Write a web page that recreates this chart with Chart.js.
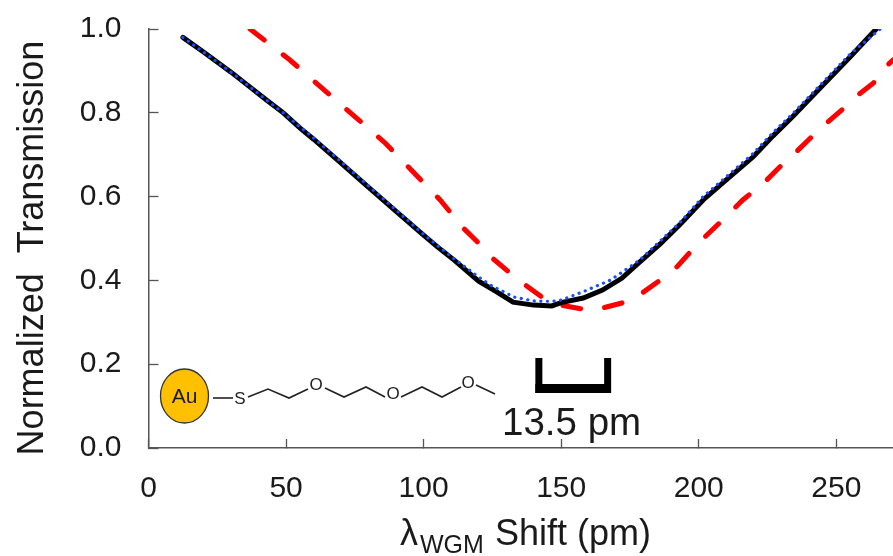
<!DOCTYPE html>
<html>
<head>
<meta charset="utf-8">
<style>
  html, body { margin: 0; padding: 0; background: #fff; }
  #wrap { width: 893px; height: 556px; }
</style>
<script src="https://cdn.jsdelivr.net/npm/chart.js@4"></script>
</head>
<body>
<div id="wrap"><canvas id="chart" width="893" height="556"></canvas></div>
<script>
const blackShift = [12.5, 20, 30, 36, 43, 49, 55, 60, 70, 80, 90, 98.7, 105, 111, 120, 126.7, 132.5, 140, 146.6, 150, 158, 165, 172, 178.6, 186, 193, 201.6, 210, 219.8, 227, 234, 245, 255, 264.5];
const blackTrans = [0.98, 0.945, 0.897, 0.866, 0.83, 0.8, 0.764, 0.737, 0.68, 0.622, 0.565, 0.515, 0.48, 0.449, 0.398, 0.372, 0.348, 0.341, 0.339, 0.347, 0.358, 0.377, 0.405, 0.444, 0.487, 0.532, 0.592, 0.64, 0.695, 0.745, 0.79, 0.865, 0.933, 1.0];

const blueShift = [12.5, 20, 30, 36, 43, 49, 55, 60, 70, 80, 90, 98.7, 105, 111, 120, 125, 133, 140, 146.5, 150, 158, 168, 178.6, 193, 201.6, 210, 219.8, 227, 234, 245, 255, 266];
const blueTrans = [0.98, 0.945, 0.897, 0.866, 0.83, 0.8, 0.766, 0.74, 0.683, 0.625, 0.568, 0.517, 0.483, 0.452, 0.408, 0.386, 0.36, 0.351, 0.35, 0.353, 0.373, 0.401, 0.449, 0.537, 0.6, 0.647, 0.703, 0.753, 0.797, 0.872, 0.94, 1.0];

const redShift = [36.9, 51.4, 66, 86, 106, 114.4, 120, 125, 131, 137, 143, 150, 157.5, 165, 172, 179.4, 185, 192, 200, 208, 216, 224, 229.5, 235, 240.6, 246, 252, 257, 263.5, 268, 270.6];
const redTrans = [1.0, 0.926, 0.842, 0.728, 0.592, 0.525, 0.489, 0.453, 0.42, 0.389, 0.36, 0.341, 0.332, 0.334, 0.346, 0.37, 0.396, 0.432, 0.49, 0.54, 0.592, 0.635, 0.671, 0.704, 0.74, 0.773, 0.807, 0.838, 0.871, 0.91, 0.926];

const xTicks = [0, 50, 100, 150, 200, 250];
const yTicks = [0, 0.2, 0.4, 0.6, 0.8, 1.0];

const bracketFrom = 141.7;
const bracketTo = 166.7;

const FONT = '"Liberation Sans", Arial, sans-serif';
const TEXT = "#1a1a1a";
const AXIS = "#555555";

function pairs(xs, ys) {
    return xs.map((x, i) => ({ x: x, y: ys[i] }));
}

// axis titles, bracket and the little molecule sketch
const extras = {
    id: "extras",
    afterDraw(chart) {
        const ctx = chart.ctx;
        const sx = chart.scales.x;
        ctx.save();

        // y title
        ctx.fillStyle = TEXT;
        ctx.textBaseline = "alphabetic";
        ctx.textAlign = "center";
        ctx.font = "36px " + FONT;
        ctx.save();
        ctx.translate(43, 248);
        ctx.rotate(-Math.PI / 2);
        ctx.fillText("Normalized  Transmission", 0, 0);
        ctx.restore();

        // x title with subscript
        ctx.textAlign = "left";
        ctx.font = "36px " + FONT;
        ctx.fillText("λ", 400, 545);
        ctx.font = "25px " + FONT;
        ctx.fillText("WGM", 420, 553);
        ctx.font = "36px " + FONT;
        ctx.fillText("Shift (pm)", 495, 545);

        // bracket
        const bx1 = sx.getPixelForValue(bracketFrom);
        const bx2 = sx.getPixelForValue(bracketTo);
        ctx.fillStyle = "#000";
        ctx.fillRect(bx1 - 3, 358, 7, 35);
        ctx.fillRect(bx2 - 3, 358, 7, 35);
        ctx.fillRect(bx1 - 3, 384, bx2 - bx1 + 6, 9);
        ctx.fillStyle = TEXT;
        ctx.font = "38.5px " + FONT;
        ctx.textAlign = "left";
        ctx.fillText("13.5 pm", 502, 435);

        // Au bead
        ctx.beginPath();
        ctx.ellipse(184.5, 396, 24, 27, 0, 0, Math.PI * 2);
        ctx.fillStyle = "#ffc000";
        ctx.fill();
        ctx.lineWidth = 1.3;
        ctx.strokeStyle = "#333";
        ctx.stroke();
        ctx.fillStyle = TEXT;
        ctx.font = "21px " + FONT;
        ctx.textAlign = "center";
        ctx.textBaseline = "middle";
        ctx.fillText("Au", 184.5, 397);

        // chain
        ctx.strokeStyle = "#222";
        ctx.lineWidth = 1.6;
        const chain = [
            [[213, 398], [233, 398]],
            [[248, 397], [268, 389], [289, 398], [308, 389]],
            [[325, 388], [344, 397], [366, 387], [385, 397]],
            [[401, 397], [422, 387], [442, 397], [461, 387]],
            [[476, 385], [495, 394]],
        ];
        chain.forEach((seg) => {
            ctx.beginPath();
            seg.forEach((p, i) => (i ? ctx.lineTo(p[0], p[1]) : ctx.moveTo(p[0], p[1])));
            ctx.stroke();
        });
        ctx.fillStyle = "#222";
        ctx.font = "17px " + FONT;
        ctx.fillText("S", 240, 399);
        ctx.fillText("O", 316, 385);
        ctx.fillText("O", 393, 394);
        ctx.fillText("O", 468, 383);

        ctx.restore();
    },
};

new Chart(document.getElementById("chart"), {
    type: "line",
    data: {
        datasets: [
            {
                label: "blue",
                data: pairs(blueShift, blueTrans),
                borderColor: "#1a4dff",
                borderWidth: 3.2,
                borderDash: [0.1, 6.5],
                borderCapStyle: "round",
                order: 1,
            },
            {
                label: "black",
                data: pairs(blackShift, blackTrans),
                borderColor: "#000",
                borderWidth: 5,
                borderCapStyle: "round",
                order: 2,
            },
            {
                label: "red",
                data: pairs(redShift, redTrans),
                borderColor: "#ff0000",
                borderWidth: 5,
                borderDash: [18, 24],
                borderCapStyle: "round",
                clip: 0,
                order: 3,
            },
        ],
    },
    options: {
        responsive: false,
        animation: false,
        parsing: false,
        elements: { point: { radius: 0 }, line: { tension: 0 } },
        layout: { padding: { top: 29, right: 0, left: 0, bottom: 0 } },
        plugins: { legend: { display: false }, tooltip: { enabled: false } },
        scales: {
            x: {
                type: "linear",
                min: 0,
                max: 270.6,
                afterBuildTicks: (axis) => { axis.ticks = xTicks.map((v) => ({ value: v })); },
                afterFit: (axis) => {
                    axis.height = 108;
                    axis.paddingLeft = 0;
                    axis.paddingRight = 0;
                },
                border: { color: AXIS, width: 1.5 },
                grid: { drawOnChartArea: false, color: AXIS, tickLength: -9, tickWidth: 1.3 },
                ticks: {
                    color: TEXT,
                    font: { family: FONT, size: 30 },
                    padding: 32,
                    maxRotation: 0,
                    autoSkip: false,
                    callback: (v) => String(v),
                },
            },
            y: {
                min: 0,
                max: 1,
                afterBuildTicks: (axis) => { axis.ticks = yTicks.map((v) => ({ value: v })); },
                afterFit: (axis) => {
                    axis.width = 148.5;
                    axis.paddingTop = 0;
                    axis.paddingBottom = 0;
                },
                border: { color: AXIS, width: 1.5 },
                grid: { drawOnChartArea: false, color: AXIS, tickLength: -10, tickWidth: 1.3 },
                ticks: {
                    color: TEXT,
                    font: { family: FONT, size: 30 },
                    padding: 37,
                    autoSkip: false,
                    callback: (v) => v.toFixed(1),
                },
            },
        },
    },
    plugins: [extras],
});
</script>
</body>
</html>
